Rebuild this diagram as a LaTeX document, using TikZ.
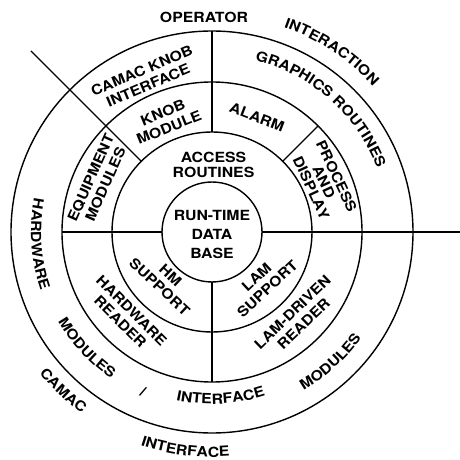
\documentclass[tikz,border=0pt]{standalone}
\usepackage{fontspec}
\setmainfont{TeX Gyre Heros}[FakeStretch=1.13]
\usetikzlibrary{decorations.text}
\newcommand{\lbl}{\fontsize{14}{16}\selectfont\bfseries}

\begin{document}
\begin{tikzpicture}[x=1pt,y=1pt]
                \useasboundingbox (-212,-228) rectangle (248,232);

                \tikzstyle{ring}=[line width=1.4pt]
                \tikzstyle{lbl}=[font=\lbl, align=center, inner sep=0pt]
                \tikzstyle{arclbl}=[decorate, decoration={text along path, text align=center}]

                \draw[ring] (0,0) circle (50pt);
                \draw[ring] (0,0) circle (100pt);
                \draw[ring] (0,0) circle (150pt);
                \draw[ring] (0,0) circle (201pt);

                \draw[ring] (90:100pt) -- (90:201pt);
                \draw[ring] (135:100pt) -- (135:256pt);
                \draw[ring] (45:100pt) -- (45:150pt);
                \draw[ring] (0:50pt) -- (248,0);
                \draw[ring] (180:50pt) -- (180:150pt);
                \draw[ring] (270:50pt) -- (270:150pt);

                \node[lbl] (rtdb) at (0,-2.5) {RUN-TIME\\[3pt]DATA\\[3pt]BASE};
                \node[lbl] (access) at (1.5,67.5) {ACCESS\\[-1pt]ROUTINES};
                \node[lbl] (operator) at (-8,214.5) {OPERATOR};
                \node[lbl, rotate=23] (camacknob) at (-67,154) {CAMAC KNOB\\INTERFACE};
                \node[lbl, rotate=22] (knob) at (-46,112) {KNOB\\MODULE};
                \node[lbl, rotate=-21] (alarm) at (45,115) {ALARM};
                \node[lbl, rotate=-65] (process) at (112,50) {PROCESS\\[-2pt]AND\\[-2pt]DISPLAY};
                \node[lbl, rotate=66] (equip) at (-114,51) {EQUIPMENT\\MODULES};
                \node[lbl, rotate=-43] (hm) at (-47,-49) {HM\\SUPPORT};
                \node[lbl, rotate=43] (lam) at (50,-51) {LAM\\SUPPORT};
                \node[lbl, rotate=-45] (hwreader) at (-86,-84) {HARDWARE\\READER};
                \node[lbl, rotate=44] (lamreader) at (86,-86) {LAM-DRIVEN\\READER};
                \node[lbl, rotate=-23] (slash) at (-69,-160) {/};

                \path[arclbl, decoration={text={|\lbl|INTERACTION}}] (91.4:217pt) arc[start angle=91.4, end angle=21.4, radius=217pt];
                \path[arclbl, decoration={text={|\lbl|GRAPHICS ROUTINES}}] (88.5:177pt) arc[start angle=88.5, end angle=8.5, radius=177pt];
                \path[arclbl, decoration={text={|\lbl|HARDWARE}}] (159:181pt) arc[start angle=159, end angle=209, radius=181pt];
                \path[arclbl, decoration={text={|\lbl|MODULES}}] (202.8:178pt) arc[start angle=202.8, end angle=242.8, radius=178pt];
                \path[arclbl, decoration={text={|\lbl|INTERFACE}}] (248:172pt) arc[start angle=248, end angle=298, radius=172pt];
                \path[arclbl, decoration={text={|\lbl|MODULES}}] (292.4:183pt) arc[start angle=292.4, end angle=332.4, radius=183pt];
                \path[arclbl, decoration={text={|\lbl|CAMAC}}] (211.8:223pt) arc[start angle=211.8, end angle=241.8, radius=223pt];
                \path[arclbl, decoration={text={|\lbl|INTERFACE}}] (238:225pt) arc[start angle=238, end angle=288, radius=225pt];
            \end{tikzpicture}
\end{document}
